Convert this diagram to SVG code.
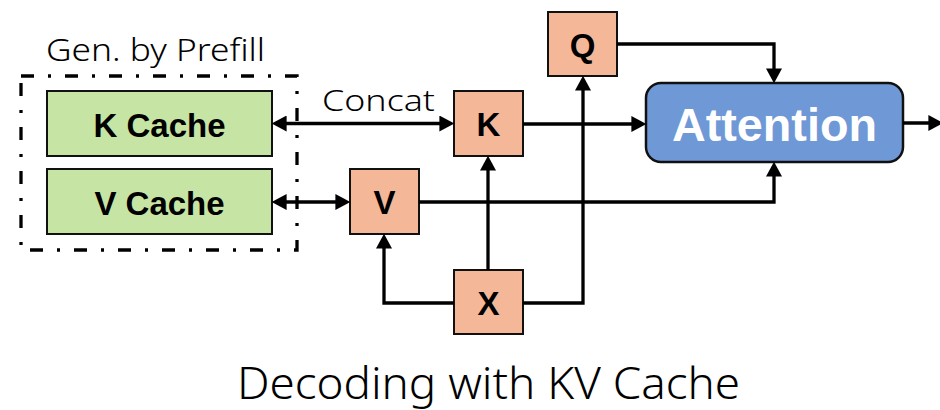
<svg xmlns="http://www.w3.org/2000/svg" width="940" height="410" viewBox="0 0 940 410">
<defs>
<marker id="ah" markerUnits="userSpaceOnUse" markerWidth="16" markerHeight="16" refX="9" refY="7.5" orient="auto-start-reverse" viewBox="0 0 15 15">
<path d="M0,0 L14,7.5 L0,15 z" fill="#000"/>
</marker>
<style>
.cache{fill:#C6E5A5;stroke:#111;stroke-width:2}
.op{fill:#F4B899;stroke:#111;stroke-width:2}
.att{fill:#6F98D6;stroke:#111;stroke-width:2.5}
.lbl{font-family:"Liberation Sans",Arial,sans-serif;font-weight:bold;font-size:33px;fill:#000;text-anchor:middle}
.big{font-family:"Liberation Sans",Arial,sans-serif;font-weight:bold;font-size:47px;fill:#fff;text-anchor:middle}
.thin{font-family:"Noto Sans","Open Sans",sans-serif;font-weight:300;fill:#000}
.wire{fill:none;stroke:#000;stroke-width:3.3}
</style>
</defs>
<rect width="940" height="410" fill="#fff"/>

<g id="prefill-group">
<rect x="21" y="76" width="276" height="174" fill="none" stroke="#000" stroke-width="3.3" stroke-dasharray="13 14 3 14"/>
<text class="thin" x="46" y="61" font-size="31" textLength="219" lengthAdjust="spacingAndGlyphs">Gen. by Prefill</text>
</g>

<g id="k-cache">
<rect class="cache" x="47" y="91" width="225" height="65"/>
<text class="lbl" x="159.5" y="137">K Cache</text>
</g>
<g id="v-cache">
<rect class="cache" x="47" y="169" width="225" height="65"/>
<text class="lbl" x="159.5" y="215">V Cache</text>
</g>

<g id="k">
<rect class="op" x="454" y="91" width="69" height="65"/>
<text class="lbl" x="488.5" y="136">K</text>
</g>
<g id="v">
<rect class="op" x="350" y="169" width="69" height="65"/>
<text class="lbl" x="384.5" y="214">V</text>
</g>
<g id="q">
<rect class="op" x="548" y="12" width="69" height="64"/>
<text class="lbl" x="582.5" y="57">Q</text>
</g>
<g id="x">
<rect class="op" x="454" y="270" width="69" height="64"/>
<text class="lbl" x="488.5" y="315">X</text>
</g>

<g id="attention">
<rect class="att" x="646" y="83" width="257" height="79" rx="15"/>
<text class="big" x="774.5" y="141" textLength="205" lengthAdjust="spacingAndGlyphs">Attention</text>
</g>

<g id="connectors">
<path class="wire" d="M277,123.5 H449" marker-start="url(#ah)" marker-end="url(#ah)"/>
<text class="thin" x="322" y="111" font-size="30" textLength="113" lengthAdjust="spacingAndGlyphs">Concat</text>
<path class="wire" d="M277,202 H345" marker-start="url(#ah)" marker-end="url(#ah)"/>
<path class="wire" d="M523,124 H641" marker-end="url(#ah)"/>
<path class="wire" d="M617,44 H774 V78" marker-end="url(#ah)"/>
<path class="wire" d="M419,202 H774 V167" marker-end="url(#ah)"/>
<path class="wire" d="M488,270 V161" marker-end="url(#ah)"/>
<path class="wire" d="M454,303 H384 V239" marker-end="url(#ah)"/>
<path class="wire" d="M523,303 H583 V81" marker-end="url(#ah)"/>
<path class="wire" d="M903,123 H938" marker-end="url(#ah)"/>
</g>

<text class="thin" x="237" y="399" font-size="44" textLength="503" lengthAdjust="spacingAndGlyphs">Decoding with KV Cache</text>
</svg>
